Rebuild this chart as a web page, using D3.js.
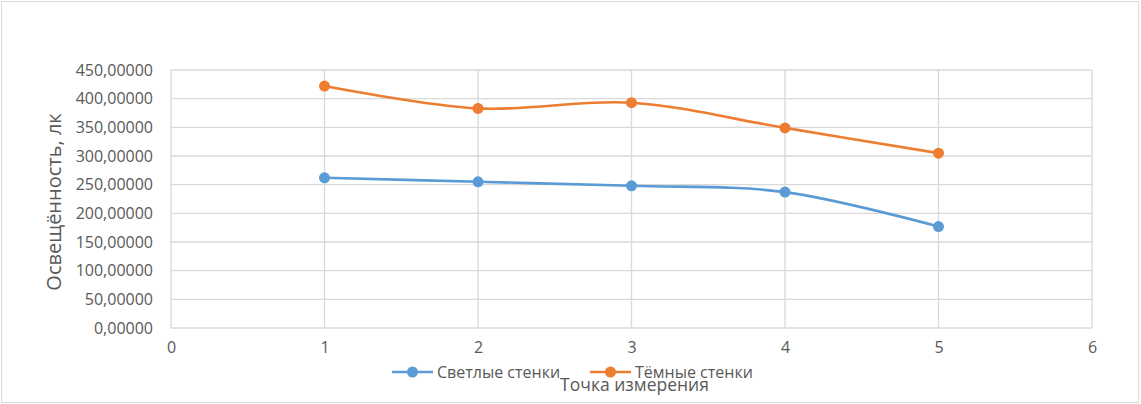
<!DOCTYPE html>
<html>
<head>
<meta charset="utf-8">
<script src="https://cdn.jsdelivr.net/npm/d3@7"></script>
<style>
  body { margin: 0; background: #fff; }
  text { font-family: "Open Sans", "Noto Sans", sans-serif; fill: #595959; }
</style>
</head>
<body>
<div id="chart"></div>
<script>
/* DATA */
const points = [1, 2, 3, 4, 5];
const lightWalls = [262, 255, 248, 237, 177];
const darkWalls = [422, 383, 393, 349, 305];
const seriesNames = ["Светлые стенки", "Тёмные стенки"];
const seriesColors = ["#5B9BD5", "#ED7D31"];
const yTicks = [0, 50, 100, 150, 200, 250, 300, 350, 400, 450];
const xTicks = [0, 1, 2, 3, 4, 5, 6];

/* CONSTANTS */
const width = 1141,
  height = 404,
  margin = { top: 70, bottom: 76, left: 171, right: 49 };

const svg = d3.select("#chart")
  .append("svg")
  .attr("width", width)
  .attr("height", height);

// outer chart border
svg.append("rect")
  .attr("x", 1.5).attr("y", 1.5)
  .attr("width", width - 4).attr("height", height - 3)
  .attr("fill", "none")
  .attr("stroke", "#d9d9d9");

const xScale = d3.scaleLinear()
  .domain([0, 6])
  .range([margin.left, width - margin.right]);

const yScale = d3.scaleLinear()
  .domain([0, 450])
  .range([height - margin.bottom, margin.top]);

// gridlines
svg.append("g")
  .selectAll("line.hgrid")
  .data(yTicks)
  .join("line")
  .attr("x1", margin.left).attr("x2", width - margin.right)
  .attr("y1", d => yScale(d)).attr("y2", d => yScale(d))
  .attr("stroke", "#d9d9d9").attr("stroke-width", 1.3);

svg.append("g")
  .selectAll("line.vgrid")
  .data(xTicks)
  .join("line")
  .attr("x1", d => xScale(d)).attr("x2", d => xScale(d))
  .attr("y1", margin.top).attr("y2", height - margin.bottom)
  .attr("stroke", "#d9d9d9").attr("stroke-width", 1.3);

// axes (labels only, lines come from grid)
const fmt = d => d3.format(".5f")(d).replace(".", ",");
const yAxis = svg.append("g")
  .attr("transform", `translate(${margin.left},0)`)
  .call(d3.axisLeft(yScale).tickValues(yTicks).tickFormat(fmt).tickSize(0).tickPadding(18));
const xAxis = svg.append("g")
  .attr("transform", `translate(0,${height - margin.bottom})`)
  .call(d3.axisBottom(xScale).tickValues(xTicks).tickFormat(d3.format("d")).tickSize(0).tickPadding(14));
[yAxis, xAxis].forEach(a => {
  a.select(".domain").remove();
  a.selectAll("text").style("font-size", "16px").attr("fill", "#595959");
});

// axis titles
svg.append("text")
  .attr("transform", `translate(61,202) rotate(-90)`)
  .attr("text-anchor", "middle")
  .style("font-size", "20px")
  .text("Освещённость, лк");

svg.append("text")
  .attr("x", (margin.left + width - margin.right) / 2 + 3)
  .attr("y", 391)
  .attr("text-anchor", "middle")
  .style("font-size", "17.5px")
  .text("Точка измерения");

// series
const lineFunc = d3.line()
  .x((d, i) => xScale(points[i]))
  .y(d => yScale(d))
  .curve(d3.curveCardinal.tension(0));

const series = [lightWalls, darkWalls];
const g = svg.selectAll("g.series")
  .data(series)
  .join("g")
  .attr("class", "series");

g.append("path")
  .attr("d", d => lineFunc(d))
  .attr("fill", "none")
  .attr("stroke", (d, i) => seriesColors[i])
  .attr("stroke-width", 2.6);

g.each(function (d, i) {
  d3.select(this).selectAll("circle")
    .data(d)
    .join("circle")
    .attr("cx", (v, j) => xScale(points[j]))
    .attr("cy", v => yScale(v))
    .attr("r", 5.5)
    .attr("fill", seriesColors[i]);
});

// legend
const legendX = [392, 590];
const legend = svg.selectAll("g.legend")
  .data(seriesNames)
  .join("g")
  .attr("class", "legend")
  .attr("transform", (d, i) => `translate(${legendX[i]},372)`);
legend.append("line")
  .attr("x1", 0).attr("x2", 41)
  .attr("stroke", (d, i) => seriesColors[i])
  .attr("stroke-width", 2.6);
legend.append("circle")
  .attr("cx", 20.5).attr("r", 5.5)
  .attr("fill", (d, i) => seriesColors[i]);
legend.append("text")
  .attr("x", 45).attr("y", 5.5)
  .style("font-size", "16px")
  .text(d => d);
</script>
</body>
</html>
